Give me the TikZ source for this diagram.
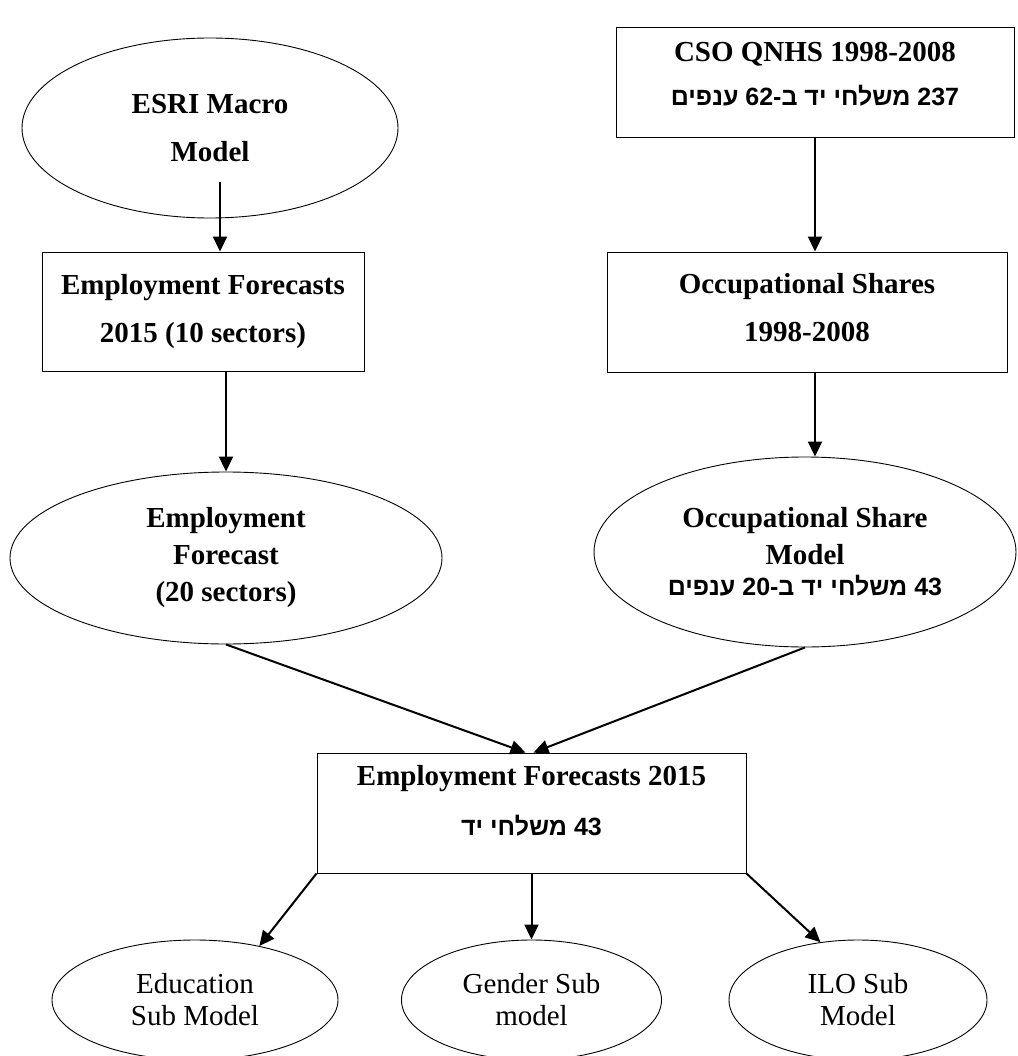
\documentclass[tikz,border=0pt]{standalone}
\usepackage{fontspec}
\setmainfont{Liberation Serif}
\newfontfamily\hebfont[Script=Hebrew]{Liberation Sans}
\TeXXeTstate=1
\usetikzlibrary{arrows.meta,shapes.geometric}
\newcommand{\myheb}[1]{{\hebfont\bfseries\fontsize{25}{30}\selectfont\beginR #1\endR}}
\begin{document}
\begin{tikzpicture}[x=1pt,y=-1pt,
    mybox/.style={draw,line width=0.9pt,inner sep=0pt,align=center,font=\bfseries\fontsize{29}{48}\selectfont},
    myellipse/.style={draw,ellipse,line width=0.9pt,inner sep=0pt,align=center,font=\bfseries\fontsize{29}{37}\selectfont},
    mysub/.style={draw,ellipse,line width=0.9pt,inner sep=0pt,align=center,minimum height=120pt,font=\fontsize{29}{32}\selectfont},
    myarrow/.style={line width=2pt,-{Triangle[length=15pt,width=14pt]}}]
    \useasboundingbox (0,0) rectangle (1017,1056);
    % niveau 1
    \node[myellipse,minimum width=376pt,minimum height=180pt] (esri) at (210,128) {ESRI Macro\\[11pt]Model};
    \node[mybox,minimum width=398pt,minimum height=110pt,text depth=16pt] (cso) at (815,82) {CSO QNHS 1998-2008\\[-4pt]\myheb{237 משלחי יד ב-62 ענפים}};
    \coordinate (esriout) at (220,182);
    % niveau 2
    \node[mybox,minimum width=322pt,minimum height=119pt] (empbox) at (203,311.5) {Employment Forecasts\\2015 (10 sectors)};
    \node[mybox,minimum width=400pt,minimum height=120pt,text depth=10pt] (occbox) at (807,312) {Occupational Shares\\1998-2008};
    % niveau 3
    \node[myellipse,minimum width=432pt,minimum height=172pt] (empell) at (226,558) {Employment\\Forecast\\(20 sectors)};
    \node[myellipse,minimum width=422pt,minimum height=190pt] (occell) at (805,552) {Occupational Share\\Model\\[-6pt]\myheb{43 משלחי יד ב-20 ענפים}};
    % niveau 4
    \node[mybox,minimum width=429pt,minimum height=120pt,text depth=26pt] (final) at (531.5,813) {Employment Forecasts 2015\\[2pt]\myheb{43 משלחי יד}};
    \node[mysub,minimum width=286pt] (edu) at (195,1000) {Education\\Sub Model};
    \node[mysub,minimum width=260pt] (gender) at (531.5,1000) {Gender Sub\\model};
    \node[mysub,minimum width=258pt] (ilo) at (858,1000) {ILO Sub\\Model};
    \draw[myarrow] (esriout) -- (esriout |- empbox.north);
    \draw[myarrow] (cso.south) -- (cso.south |- occbox.north);
    \draw[myarrow] (empell.north |- empbox.south) -- (empell.north);
    \draw[myarrow] (cso.south |- occbox.south) -- (cso.south |- occell.north);
    \draw[myarrow] (empell.south) -- ([xshift=-6pt]final.north);
    \draw[myarrow] (occell.south) -- ([xshift=2pt]final.north);
    \draw[myarrow] (final.south west) -- (edu.40);
    \draw[myarrow] (final.south) -- (gender.north);
    \draw[myarrow] (final.south east) -- (ilo.123);
\end{tikzpicture}
\end{document}
